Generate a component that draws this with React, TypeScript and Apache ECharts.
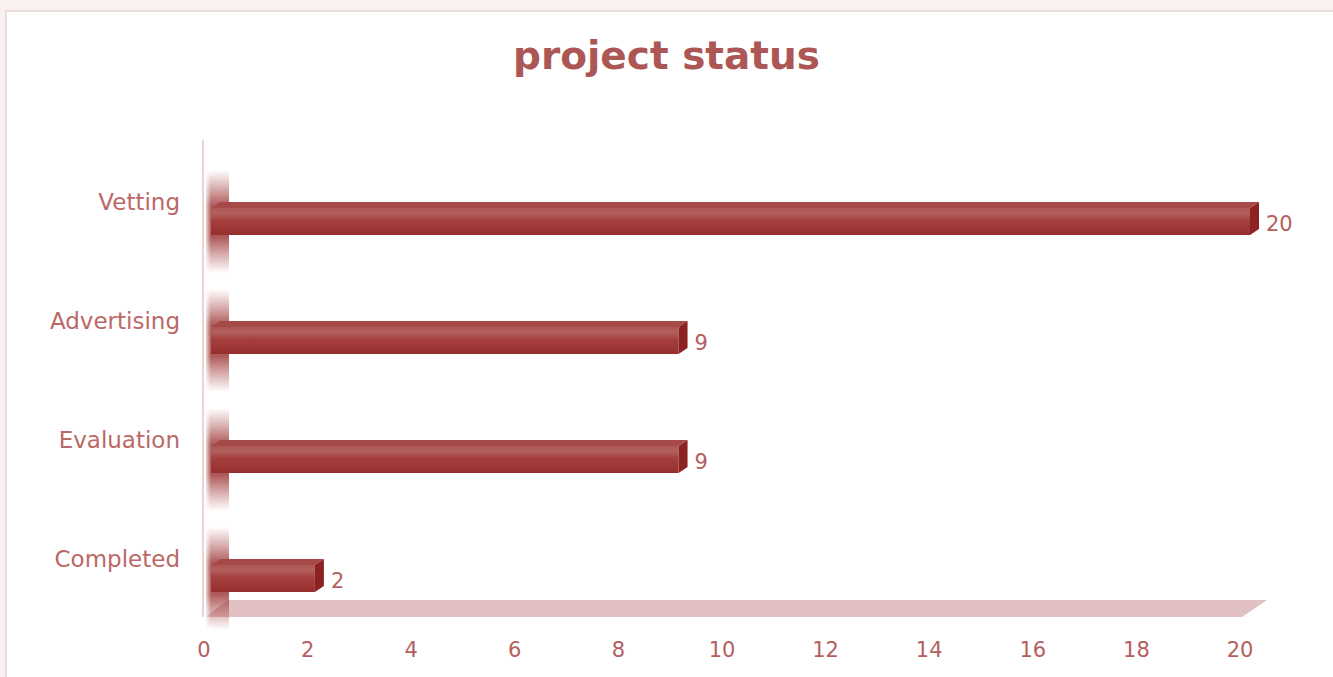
import React, { useEffect, useRef } from "react";
import * as echarts from "echarts";

const categories = ["Completed", "Evaluation", "Advertising", "Vetting"];
const values = [2, 9, 9, 20];
const xTicksMax = 20;
const xTickInterval = 2;
const titleText = "project status";

const FONT = "DejaVu Sans";
const TEXT_COLOR = "#b45f5d";

export default function App() {
  const ref = useRef<HTMLDivElement>(null);
  useEffect(() => {
    if (!ref.current) return;
    const chart = echarts.init(ref.current, undefined, { renderer: "svg" });
    const D = 9; // depth dx
    const DY = 6; // depth dy
    const HALF = 13.5;

    const barRender = (params: any, api: any) => {
      const idx = api.value(1);
      const v = api.value(0);
      const p0 = api.coord([0, idx]);
      const p1 = api.coord([v, idx]);
      const x0 = p0[0];
      const x1 = p1[0];
      const cy = p0[1];
      const top = cy - HALF;
      const bot = cy + HALF;
      return {
        type: "group",
        children: [
          {
            type: "rect",
            shape: { x: x0 - 5, y: top - 38, width: 23, height: bot - top + 76 },
            style: {
              fill: new echarts.graphic.LinearGradient(0, 0, 0, 1, [
                { offset: 0, color: "rgba(170,70,70,0)" },
                { offset: 0.35, color: "rgba(160,60,60,0.85)" },
                { offset: 0.65, color: "rgba(160,60,60,0.85)" },
                { offset: 1, color: "rgba(170,70,70,0)" },
              ]),
            },
            z2: 1,
          },
          {
            type: "rect",
            shape: { x: x0 - 6, y: top - 38, width: 6, height: bot - top + 76 },
            style: {
              fill: new echarts.graphic.LinearGradient(0, 0, 1, 0, [
                { offset: 0, color: "rgba(255,255,255,0.9)" },
                { offset: 1, color: "rgba(255,255,255,0)" },
              ]),
            },
            z2: 2,
          },
          {
            type: "polygon",
            shape: {
              points: [
                [x0, top],
                [x0 + D, top - DY],
                [x1 + D, top - DY],
                [x1, top],
              ],
            },
            style: { fill: "#a64a49" },
            z2: 5,
          },
          {
            type: "rect",
            shape: { x: x0, y: top, width: x1 - x0, height: bot - top },
            style: {
              fill: new echarts.graphic.LinearGradient(0, 0, 0, 1, [
                { offset: 0, color: "#ad5755" },
                { offset: 0.2, color: "#b2605e" },
                { offset: 0.45, color: "#a6403f" },
                { offset: 1, color: "#962e2e" },
              ]),
            },
            z2: 5,
          },
          {
            type: "polygon",
            shape: {
              points: [
                [x1, top],
                [x1 + D, top - DY],
                [x1 + D, bot - DY],
                [x1, bot],
              ],
            },
            style: { fill: "#8c2222" },
            z2: 5,
          },
          {
            type: "text",
            x: x1 + 16,
            y: cy + 2,
            style: {
              text: String(v),
              fill: TEXT_COLOR,
              fontFamily: FONT,
              fontSize: 21,
              align: "left",
              verticalAlign: "middle",
            },
            z2: 6,
          },
        ],
      };
    };

    const floorRender = (params: any, api: any) => {
      const p0 = api.coord([0, 0]);
      const p1 = api.coord([xTicksMax, 0]);
      const pTop = api.coord([0, categories.length - 1]);
      const band = api.size([0, 1])[1];
      const fy0 = p0[1] + 21.5;
      const fy1 = p0[1] + 38.5;
      const wx = p0[0] - 8;
      return {
        type: "group",
        children: [
          {
            type: "polygon",
            shape: {
              points: [
                [wx + 2, fy1],
                [wx + 25, fy0],
                [p1[0] + 17, fy0],
                [p1[0] - 8, fy1],
              ],
            },
            style: { fill: "#e0c0c0" },
          },
          {
            type: "line",
            shape: { x1: wx, y1: pTop[1] - band / 2 - 22, x2: wx, y2: fy1 },
            style: { stroke: "#ecd3d3", lineWidth: 2 },
          },
        ],
      };
    };

    chart.setOption({
      animation: false,
      backgroundColor: "#f8f1f0",
      title: {
        text: titleText,
        left: "center",
        top: 31,
        textStyle: {
          fontFamily: FONT,
          fontWeight: "bold",
          fontSize: 39,
          color: "#ac5755",
        },
      },
      graphic: [
        {
          type: "rect",
          shape: { x: 6, y: 11, width: 1340, height: 700 },
          style: { fill: "#ffffff", stroke: "#eddcdc", lineWidth: 2 },
          z: -10,
        },
      ],
      grid: [
        { left: 211, right: 83, top: 162, bottom: 39 },
        { left: 204, right: 93, top: 162, bottom: 42 },
      ],
      xAxis: [
        { gridIndex: 0, type: "value", min: 0, max: xTicksMax, interval: xTickInterval, show: false },
        {
          gridIndex: 1,
          type: "value",
          min: 0,
          max: xTicksMax,
          interval: xTickInterval,
          axisLine: { show: false },
          axisTick: { show: false },
          splitLine: { show: false },
          axisLabel: {
            color: TEXT_COLOR,
            fontFamily: FONT,
            fontSize: 21,
            margin: 4,
          },
        },
      ],
      yAxis: [
        {
          gridIndex: 0,
          type: "category",
          data: categories,
          axisLine: { show: false },
          axisTick: { show: false },
          splitLine: { show: false },
          axisLabel: {
            color: "#bb6866",
            fontFamily: FONT,
            fontSize: 23,
            margin: 31,
            lineHeight: 39,
            formatter: (v: string) => v + "\n ",
          },
        },
        {
          gridIndex: 1,
          type: "category",
          data: categories,
          show: false,
        },
      ],
      series: [
        {
          type: "custom",
          name: "floor",
          xAxisIndex: 0,
          yAxisIndex: 0,
          data: [[0, 0]],
          renderItem: floorRender,
          z: 1,
          silent: true,
        },
        {
          type: "custom",
          name: "projects",
          xAxisIndex: 0,
          yAxisIndex: 0,
          data: values.map((v, i) => [v, i]),
          encode: { x: 0, y: 1 },
          renderItem: barRender,
          z: 2,
        },
      ],
    });
    return () => chart.dispose();
  }, []);
  return (
    <div
      ref={ref}
      style={{ position: "fixed", left: 0, top: 0, width: 1333, height: 677 }}
    />
  );
}
